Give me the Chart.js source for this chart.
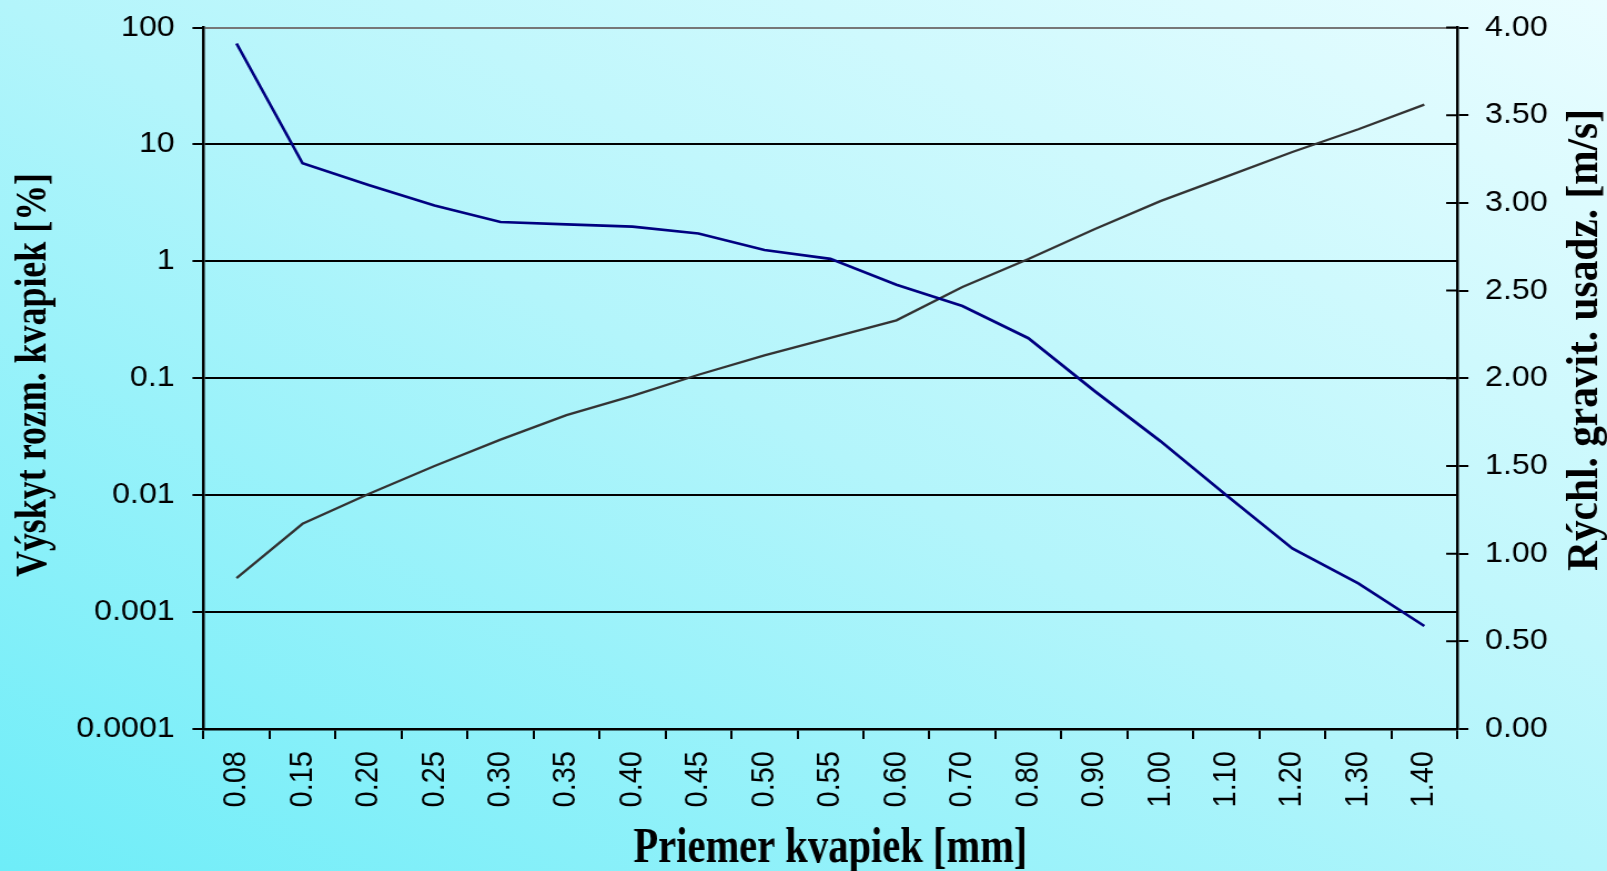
<!DOCTYPE html>
<html>
<head>
<meta charset="utf-8">
<title>Výskyt a rýchlosť kvapiek</title>
<script src="https://cdn.jsdelivr.net/npm/chart.js@4.4.1/dist/chart.umd.min.js"></script>
<style>
  html, body { margin: 0; padding: 0; width: 1607px; height: 871px; overflow: hidden; }
  body { background: linear-gradient(to top right, #6eedf8 0%, #b3f5fb 50%, #eafdff 100%); }
  /* the chart is laid out on a narrower canvas and widened horizontally */
  #wrap { position: absolute; left: 0; top: 0; width: 1448px; height: 871px;
          transform: scaleX(1.10981); transform-origin: 0 0; }
  canvas { display: block; }
</style>
</head>
<body>
<div id="wrap"><canvas id="c" width="1448" height="871"></canvas></div>
<script>
// drop diameter classes [mm]
const categories = ['0.08', '0.15', '0.20', '0.25', '0.30', '0.35', '0.40', '0.45', '0.50', '0.55',
                    '0.60', '0.70', '0.80', '0.90', '1.00', '1.10', '1.20', '1.30', '1.40'];

// share of drops of each size [%] (left, logarithmic axis)
const occurrence = [73, 6.9, 4.5, 3.0, 2.17, 2.07, 1.98, 1.73, 1.25, 1.05,
                    0.63, 0.415, 0.22, 0.078, 0.029, 0.010, 0.0035, 0.00176, 0.00076];

// gravitational settling velocity [m/s] (right axis)
const velocity = [0.86, 1.17, 1.34, 1.50, 1.65, 1.79, 1.90, 2.02, 2.13, 2.23,
                  2.33, 2.52, 2.68, 2.85, 3.01, 3.15, 3.29, 3.42, 3.56];

// axis ticks
const leftTickValues = [0.0001, 0.001, 0.01, 0.1, 1, 10, 100];
const leftTickLabels = ['0.0001', '0.001', '0.01', '0.1', '1', '10', '100'];
const rightTickValues = [0, 0.5, 1, 1.5, 2, 2.5, 3, 3.5, 4];
const rightTickLabels = ['0.00', '0.50', '1.00', '1.50', '2.00', '2.50', '3.00', '3.50', '4.00'];

// axis titles
const xTitle = 'Priemer kvapiek [mm]';
const leftTitle = 'Výskyt rozm. kvapiek [%]';
const rightTitle = 'Rýchl. gravit. usadz. [m/s]';

const tickFont = { family: '"Liberation Sans", Arial, sans-serif', size: 29 };

// bold serif title fitted to a given length along its baseline
function drawFittedTitle(ctx, text, x, y, rot, size, len) {
  ctx.save();
  ctx.translate(x, y);
  ctx.rotate(rot);
  ctx.font = 'bold ' + size + 'px "Liberation Serif", "Times New Roman", serif';
  const w = ctx.measureText(text).width;
  ctx.scale(len / w, 1);
  ctx.textAlign = 'center';
  ctx.textBaseline = 'alphabetic';
  ctx.fillStyle = '#000';
  ctx.fillText(text, 0, 0);
  ctx.restore();
}

const axisDecor = {
  id: 'axisDecor',
  afterDraw(chart) {
    const ctx = chart.ctx;
    const a = chart.chartArea;
    // right axis tick marks cross the axis line
    const yR = chart.scales.yR;
    ctx.save();
    ctx.strokeStyle = '#000';
    ctx.lineWidth = 2;
    ctx.beginPath();
    yR.ticks.forEach(t => {
      const py = yR.getPixelForValue(t.value);
      ctx.moveTo(yR.left - 10, py);
      ctx.lineTo(yR.left, py);
    });
    ctx.stroke();
    ctx.restore();

    drawFittedTitle(ctx, xTitle, (a.left + a.right) / 2, 862, 0, 50, 355);
    drawFittedTitle(ctx, leftTitle, 40.5, 375, -Math.PI / 2, 40, 404);
    drawFittedTitle(ctx, rightTitle, 1439, 340, -Math.PI / 2, 40, 462);
  }
};

// vertical axes: fixed width, no extra room reserved for the end labels
function fixVertical(width) {
  return s => { s.width = width; s.paddingTop = 0; s.paddingBottom = 0; };
}

new Chart(document.getElementById('c'), {
  type: 'line',
  data: {
    labels: categories,
    datasets: [
      {
        label: leftTitle,
        data: occurrence,
        yAxisID: 'yL',
        borderColor: '#000080',
        borderWidth: 2.7,
        pointRadius: 0,
        tension: 0,
        fill: false
      },
      {
        label: rightTitle,
        data: velocity,
        yAxisID: 'yR',
        borderColor: '#333333',
        borderWidth: 2.3,
        pointRadius: 0,
        tension: 0,
        fill: false
      }
    ]
  },
  options: {
    responsive: false,
    animation: false,
    devicePixelRatio: 1,
    layout: { padding: { top: 27.5, left: 0, right: 0, bottom: 0 } },
    plugins: { legend: { display: false }, tooltip: { enabled: false } },
    scales: {
      x: {
        type: 'category',
        offset: true,
        grid: { offset: true, drawOnChartArea: false, color: '#000', lineWidth: 2, tickLength: 10 },
        border: { color: '#000', width: 2.5 },
        ticks: { minRotation: 90, maxRotation: 90, autoSkip: false, padding: 12, color: '#000', font: tickFont },
        afterFit(s) { s.height = 142; s.paddingLeft = 0; s.paddingRight = 0; }
      },
      yL: {
        type: 'logarithmic',
        position: 'left',
        min: 0.0001,
        max: 100,
        afterBuildTicks(s) { s.ticks = leftTickValues.map(v => ({ value: v })); },
        ticks: {
          padding: 16,
          color: '#000',
          font: tickFont,
          callback: v => leftTickLabels[leftTickValues.indexOf(v)]
        },
        grid: {
          color: c => (c.tick && c.tick.value === 100 ? '#777777' : '#000000'),
          tickColor: '#000',
          lineWidth: 2,
          tickLength: 10
        },
        border: { color: '#000', width: 2.5 },
        afterFit: fixVertical(183.4)
      },
      yR: {
        type: 'linear',
        position: 'right',
        min: 0,
        max: 4,
        afterBuildTicks(s) { s.ticks = rightTickValues.map(v => ({ value: v })); },
        ticks: {
          padding: 15,
          color: '#000',
          font: tickFont,
          callback: v => rightTickLabels[rightTickValues.indexOf(v)]
        },
        grid: { drawOnChartArea: false, color: '#000', lineWidth: 2, tickLength: 10 },
        border: { color: '#000', width: 2.5 },
        afterFit: fixVertical(134.9)
      }
    }
  },
  plugins: [axisDecor]
});
</script>
</body>
</html>
